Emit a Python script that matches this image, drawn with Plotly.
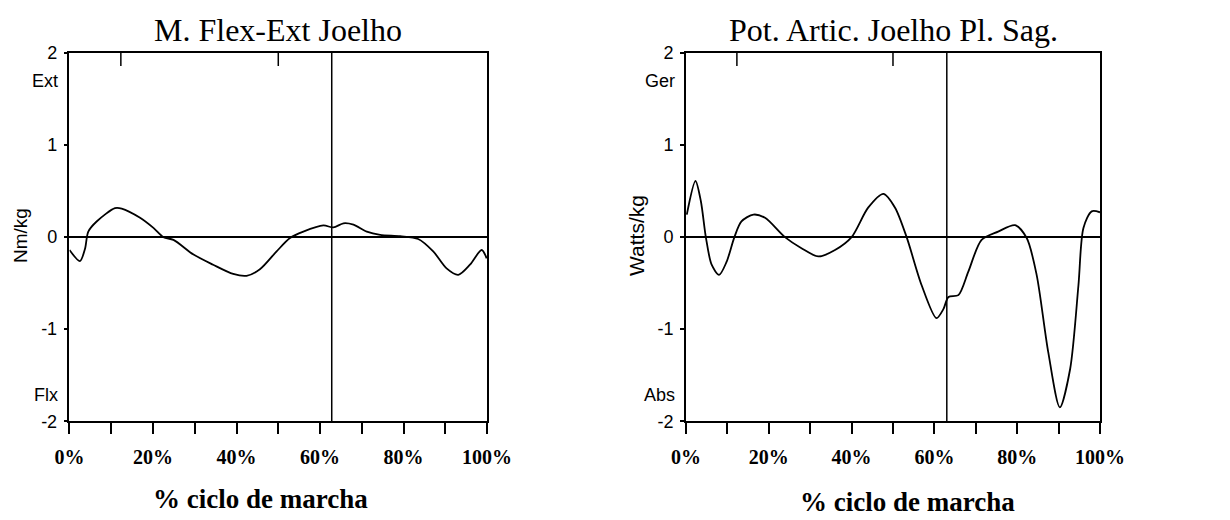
import plotly.graph_objects as go

# ---- data ----
moment_x = [0, 2.5, 3.7, 4.5, 6.5, 10.9, 12.5, 16.9, 20.1, 22.5, 24.9, 29.7, 34.4, 39.2, 42.4,
            45.6, 49.6, 52.8, 56, 60.8, 63.2, 65.6, 68, 71.2, 74.4, 79.2, 83.5, 87.1, 90.3,
            93.1, 95.9, 98.7, 99.9]
moment_y = [-0.14, -0.26, -0.13, 0.06, 0.17, 0.315, 0.31, 0.21, 0.10, 0.0, -0.03, -0.19, -0.30,
            -0.40, -0.42, -0.35, -0.155, -0.01, 0.06, 0.127, 0.105, 0.15, 0.135, 0.06, 0.025,
            0.01, -0.02, -0.155, -0.34, -0.41, -0.30, -0.14, -0.23]

power_x = [0.2, 2.3, 3.6, 4.8, 6.2, 8.0, 9.8, 11.7, 13.4, 16.3, 19.1, 23.9, 27.9, 32, 36, 40,
           44, 47.7, 50.5, 53.3, 56.9, 60.5, 62.2, 63.4, 65.8, 68.2, 71.4, 75.4, 79.5, 82.3,
           84.7, 87.5, 90.3, 92.8, 94.8, 96, 98, 100]
power_y = [0.245, 0.61, 0.39, 0.0, -0.30, -0.41, -0.27, 0.0, 0.17, 0.245, 0.21, 0.0, -0.12,
           -0.21, -0.14, 0.0, 0.32, 0.47, 0.32, 0.0, -0.52, -0.88, -0.78, -0.65, -0.63, -0.375,
           -0.03, 0.06, 0.13, -0.01, -0.41, -1.25, -1.85, -1.43, -0.52, 0.10, 0.28, 0.27]

toe_off = [62.8, 63.0]
event_ticks = [12.3, 50.0]

x_tickvals = list(range(0, 101, 10))
x_ticktext = ["0%", "", "20%", "", "40%", "", "60%", "", "80%", "", "100%"]
y_tickvals = [-2, -1, 0, 1, 2]
y_ticktext = ["-2", "-1", "0", "1", "2"]

titles = ["M. Flex-Ext Joelho", "Pot. Artic. Joelho Pl. Sag."]
y_titles = ["Nm/kg", "Watts/kg"]
top_labels = ["Ext", "Ger"]
bottom_labels = ["Flx", "Abs"]
x_title = "% ciclo de marcha"

# ---- figure ----
fig = go.Figure()
fig.add_trace(go.Scatter(x=moment_x, y=moment_y, mode="lines",
                         line=dict(color="black", width=1.8, shape="spline", smoothing=0.8),
                         xaxis="x", yaxis="y", showlegend=False))
fig.add_trace(go.Scatter(x=power_x, y=power_y, mode="lines",
                         line=dict(color="black", width=1.8, shape="spline", smoothing=0.8),
                         xaxis="x2", yaxis="y2", showlegend=False))

serif = "Liberation Serif"
sans = "Liberation Sans"

xdoms = [[0.0565, 0.396], [0.5577, 0.8943]]
ydom = [0.190, 0.898]

common_x = dict(range=[0, 100], tickvals=x_tickvals, ticktext=x_ticktext, ticks="outside",
                ticklen=11, tickwidth=1.5, tickcolor="black", showline=True, linecolor="black",
                linewidth=1.5, mirror=True, showgrid=False, zeroline=False, automargin=False,
                ticklabelstandoff=6,
                tickfont=dict(family=serif, size=20, color="black", weight="bold"))
common_y = dict(range=[-2, 2], tickvals=y_tickvals, ticktext=y_ticktext, ticks="outside",
                ticklen=4, tickwidth=1.5, tickcolor="black", showline=True, linecolor="black",
                linewidth=1.5, mirror=True, showgrid=False, zeroline=True, zerolinecolor="black",
                zerolinewidth=1.5, ticklabelstandoff=3, automargin=False,
                tickfont=dict(family=sans, size=18, color="black"))

fig.update_layout(
    width=1230, height=520, margin=dict(l=0, r=0, t=0, b=0),
    paper_bgcolor="white", plot_bgcolor="white",
    xaxis=dict(domain=xdoms[0], anchor="y", **common_x),
    yaxis=dict(domain=ydom, anchor="x", **common_y),
    xaxis2=dict(domain=xdoms[1], anchor="y2", **common_x),
    yaxis2=dict(domain=ydom, anchor="x2", **common_y),
)

shapes = []
annotations = []
for i in range(2):
    xr = "x" if i == 0 else "x2"
    yr = "y" if i == 0 else "y2"
    shapes.append(dict(type="line", xref=xr, yref=yr + " domain", x0=toe_off[i], x1=toe_off[i],
                       y0=0, y1=1, line=dict(color="black", width=1.5)))
    for t in event_ticks:
        shapes.append(dict(type="line", xref=xr, yref=yr + " domain", x0=t, x1=t,
                           y0=1, y1=1 - 13 / 368, line=dict(color="black", width=1.5)))
    # titles
    cx = [277.5, 893][i] / 1230
    annotations.append(dict(text=titles[i], xref="paper", yref="paper", x=cx, y=1 - 30 / 520,
                            showarrow=False, xanchor="center", yanchor="middle",
                            font=dict(family=serif, size=32, color="black")))
    # y titles
    ytx = [21, 637][i] / 1230
    annotations.append(dict(text=y_titles[i], xref="paper", yref="paper", x=ytx,
                            y=1 - 236 / 520, showarrow=False, textangle=-90,
                            xanchor="center", yanchor="middle",
                            font=dict(family=sans, size=[19, 21][i], color="black")))
    # Ext / Flx labels
    axl = xdoms[i][0]
    annotations.append(dict(text=top_labels[i], xref="paper", yref=yr, x=axl - 9 / 1230, y=1.70,
                            showarrow=False, xanchor="right", yanchor="middle",
                            font=dict(family=sans, size=18, color="black")))
    annotations.append(dict(text=bottom_labels[i], xref="paper", yref=yr, x=axl - 9 / 1230, y=-1.72,
                            showarrow=False, xanchor="right", yanchor="middle",
                            font=dict(family=sans, size=18, color="black")))
    # x titles
    xtx = [260, 907][i] / 1230
    xty = [499, 502][i]
    annotations.append(dict(text="<b>" + x_title + "</b>", xref="paper", yref="paper", x=xtx,
                            y=1 - xty / 520, showarrow=False, xanchor="center", yanchor="middle",
                            font=dict(family=serif, size=27, color="black")))

fig.update_layout(shapes=shapes, annotations=annotations)

fig.write_html("out.html")
